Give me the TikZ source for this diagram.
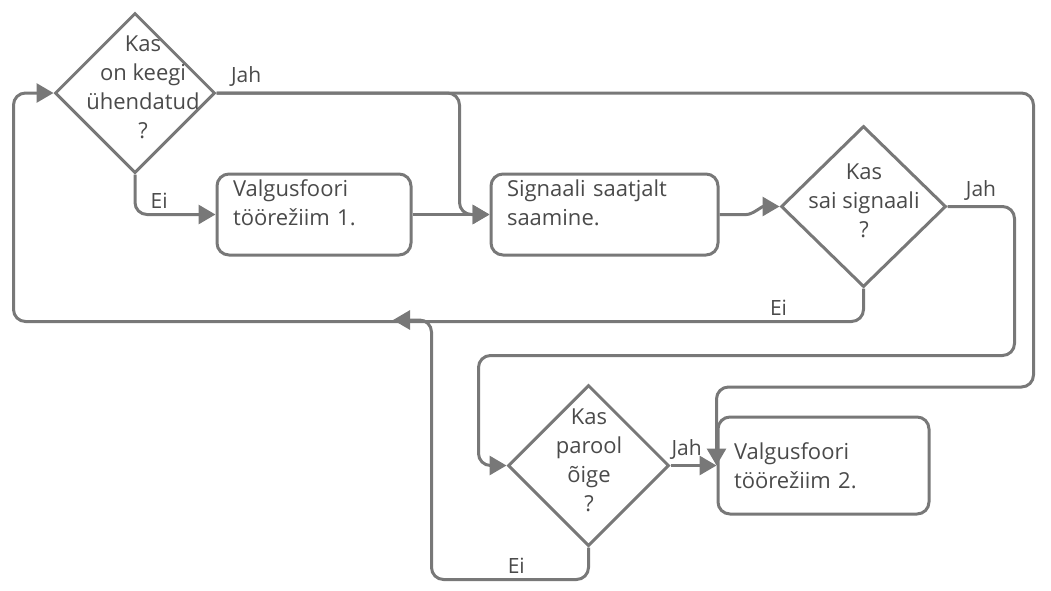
\documentclass[tikz,border=0pt]{standalone}
\usepackage{fontspec}
\setmainfont{Open Sans}
\usepackage{tikz}
\usetikzlibrary{arrows.meta,shapes.geometric}
\definecolor{linegray}{HTML}{787878}
\definecolor{textgray}{HTML}{4A4A4A}
\tikzset{box/.style={draw=linegray,line width=3pt,rounded corners=12pt,align=left,
 inner xsep=16pt,inner ysep=0pt,text=textgray,font=\fontsize{22}{29}\selectfont},
 dec/.style={diamond,draw=linegray,line width=3pt,inner sep=0pt,minimum width=160pt,minimum height=160pt},
 dtxt/.style={align=center,text=textgray,inner sep=0pt,font=\fontsize{22}{29}\selectfont},
 arr/.style={draw=linegray,line width=3pt,rounded corners=12pt,line join=round,-{Triangle[length=17pt,width=19pt]}},
 lbl/.style={text=textgray,inner sep=5pt,font=\fontsize{21}{25}\selectfont}}

\begin{document}
\begin{tikzpicture}[x=1pt,y=-1pt]
\useasboundingbox (0,0) rectangle (1051,590);
\node[dec] (d1) at (135,93) {};
\node[dtxt] (d1t) at (143,87) {Kas\\on keegi\\ühendatud\\?};
\node[box,text width=162pt,minimum height=81pt] (b1) at (314,214.5) {\parbox[c][69pt][t]{162pt}{Valgusfoori\\töörežiim 1.}};
\node[box,text width=195pt,minimum height=81pt] (b2) at (604.5,214.5) {\parbox[c][69pt][t]{195pt}{Signaali saatjalt\\saamine.}};
\node[dec,minimum width=165pt,minimum height=161pt] (d2) at (863.5,206.5) {};
\node[dtxt] (d2t) at (864,201) {Kas\\sai signaali\\?};
\node[dec,minimum width=161pt,minimum height=161pt] (d3) at (588.5,465.5) {};
\node[dtxt] (d3t) at (589,460) {Kas\\parool\\õige\\?};
\node[box,text width=179pt,minimum height=97pt] (b3) at (823.5,465.5) {Valgusfoori\\töörežiim 2.};
\coordinate (join) at (393,320);
\draw[arr] (d1.south) |- node[lbl,pos=0.65,above]{Ei} (b1.west);
\draw[arr] (d1.east) -- ++(243,0) |- (b2.west);
\draw[arr] (d1.east) -| node[lbl,pos=0,above right,xshift=8pt]{Jah} ++(817,294) -| (b3.west);
\draw[arr] (b1.east) -- (b2.west);
\draw[arr] (b2.east) -- ++(15,0) to[out=0,in=180] (d2.west);
\draw[arr] (d2.east) -- node[lbl,above]{Jah} ++(67,0) |- ++(-536,149) |- (d3.west);
\draw[arr] (d2.south) |- node[lbl,pos=0.55,above]{Ei} ++(-850,33) |- (d1.west);
\draw[arr] (d3.south) |- node[lbl,pos=0.73,above]{Ei} ++(-157,32) |- (join);
\draw[arr] (d3.east) -- node[lbl,above,pos=0.35]{Jah} (b3.west);
\end{tikzpicture}
\end{document}
